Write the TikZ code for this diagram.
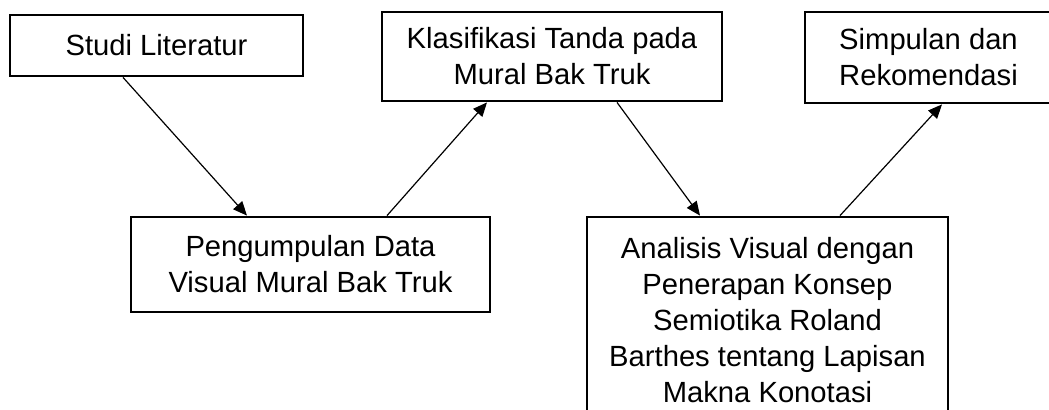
\documentclass[tikz,border=0pt]{standalone}
\usepackage{fontspec}
\setmainfont{Liberation Sans}
\usetikzlibrary{arrows.meta, calc, positioning}

\tikzset{
  stepbox/.style={draw,line width=1.4pt,align=center,inner sep=0pt},
  flowarrow/.style={-{Triangle[length=7pt,width=6pt]},line width=0.6pt}
}

\begin{document}
\begin{tikzpicture}[x=0.5pt,y=-0.5pt,font=\fontsize{14.6pt}{18pt}\selectfont]
    \useasboundingbox (0,0) rectangle (1049,410);
    \node[stepbox,minimum width=146.5pt,minimum height=30.5pt] (studi) at (156.5,45.5) {Studi Literatur};
    \node[stepbox,minimum width=179.5pt,minimum height=47.5pt] (pengumpulan) at (310.5,264.5) {Pengumpulan Data\\Visual Mural Bak Truk};
    \node[stepbox,minimum width=170pt,minimum height=44.5pt] (klasifikasi) at (552,56.5) {Klasifikasi Tanda pada\\Mural Bak Truk};
    \node[stepbox,minimum width=180.5pt,minimum height=103pt] (analisis) at (767.5,320) {Analisis Visual dengan\\Penerapan Konsep\\Semiotika Roland\\Barthes tentang Lapisan\\Makna Konotasi};
    \node[stepbox,minimum width=123.5pt,minimum height=45.5pt] (simpulan) at (928.5,57.5) {Simpulan dan\\Rekomendasi};
    \draw[flowarrow] ([xshift=-16.75pt]studi.south) -- ([xshift=-31.75pt]pengumpulan.north);
    \draw[flowarrow] ([xshift=38.25pt]pengumpulan.north) -- ([xshift=-32.5pt]klasifikasi.south);
    \draw[flowarrow] ([xshift=32.5pt]klasifikasi.south) -- ([xshift=-33.75pt]analisis.north);
    \draw[flowarrow] ([xshift=36.25pt]analisis.north) -- ([xshift=6.75pt]simpulan.south);
\end{tikzpicture}
\end{document}
